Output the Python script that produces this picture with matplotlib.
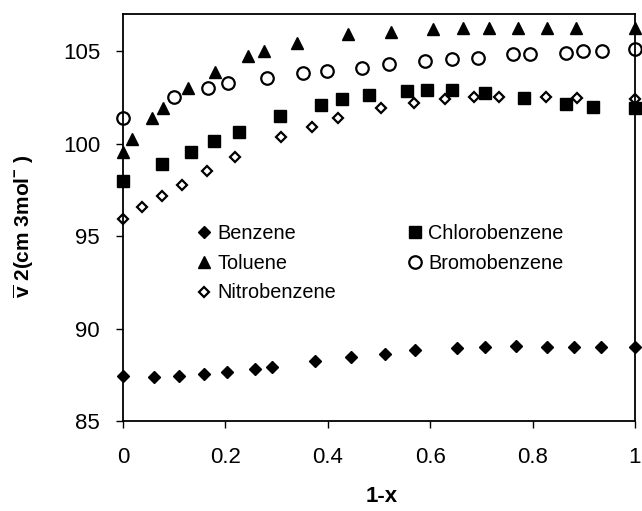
import matplotlib.pyplot as plt

plt.rcParams['font.family'] = ['Liberation Sans', 'DejaVu Sans']
plt.rcParams['mathtext.fontset'] = 'custom'
plt.rcParams['mathtext.rm'] = 'Liberation Sans'
plt.rcParams['mathtext.bf'] = 'Liberation Sans:bold'

# dados
benz_x = [0.0, 0.06, 0.109, 0.158, 0.203, 0.258, 0.291, 0.376, 0.445, 0.512, 0.570,
          0.652, 0.708, 0.767, 0.828, 0.881, 0.934, 1.0]
benz_y = [87.43, 87.39, 87.44, 87.53, 87.64, 87.82, 87.93, 88.25, 88.47, 88.65, 88.83,
          88.95, 89.0, 89.04, 89.0, 89.0, 89.0, 89.0]

tol_x = [0.0, 0.018, 0.056, 0.079, 0.127, 0.18, 0.245, 0.275, 0.34, 0.44, 0.523,
         0.605, 0.665, 0.715, 0.772, 0.829, 0.884, 1.0]
tol_y = [99.52, 100.24, 101.37, 101.91, 102.99, 103.88, 104.73, 105.0, 105.45, 105.9,
         106.04, 106.17, 106.22, 106.22, 106.22, 106.22, 106.22, 106.26]

clb_x = [0.0, 0.076, 0.132, 0.178, 0.227, 0.307, 0.386, 0.428, 0.481, 0.555, 0.593,
         0.642, 0.707, 0.784, 0.865, 0.919, 1.0]
clb_y = [97.95, 98.89, 99.52, 100.11, 100.63, 101.5, 102.09, 102.4, 102.63, 102.84,
         102.88, 102.88, 102.75, 102.48, 102.13, 101.98, 101.94]

brb_x = [0.0, 0.1, 0.167, 0.206, 0.281, 0.351, 0.398, 0.467, 0.52, 0.59, 0.643,
         0.693, 0.761, 0.795, 0.866, 0.899, 0.936, 1.0]
brb_y = [101.37, 102.54, 103.02, 103.29, 103.56, 103.83, 103.92, 104.1, 104.28, 104.46,
         104.55, 104.64, 104.82, 104.82, 104.91, 105.0, 105.0, 105.09]

nib_x = [0.0, 0.038, 0.076, 0.115, 0.165, 0.219, 0.309, 0.37, 0.42, 0.504, 0.568,
         0.629, 0.686, 0.734, 0.826, 0.886, 1.0]
nib_y = [95.93, 96.55, 97.18, 97.78, 98.53, 99.25, 100.33, 100.9, 101.37, 101.94,
         102.21, 102.4, 102.52, 102.52, 102.52, 102.48, 102.4]

fig = plt.figure(figsize=(6.42, 5.11), dpi=100)
ax = fig.add_axes([0.1916, 0.176, 0.7974, 0.7966])

ax.plot(benz_x, benz_y, 'D', color='black', ms=6.5, ls='none', label='Benzene', clip_on=False)
ax.plot(tol_x, tol_y, '^', color='black', ms=9, ls='none', label='Toluene', clip_on=False)
ax.plot(nib_x, nib_y, 'D', mfc='white', mec='black', mew=1.6, ms=5.5, ls='none',
        label='Nitrobenzene', clip_on=False)
ax.plot(clb_x, clb_y, 's', color='black', ms=8.5, ls='none', label='Chlorobenzene', clip_on=False)
ax.plot(brb_x, brb_y, 'o', mfc='white', mec='black', mew=1.6, ms=9, ls='none',
        label='Bromobenzene', clip_on=False)

ax.set_xlim(0, 1)
ax.set_ylim(85, 107)
ax.set_xticks([0, 0.2, 0.4, 0.6, 0.8, 1])
ax.set_xticklabels(['0', '0.2', '0.4', '0.6', '0.8', '1'])
ax.set_yticks([85, 90, 95, 100, 105])
ax.tick_params(labelsize=16, direction='out', length=5, width=1)
ax.tick_params(axis='x', pad=14)
ax.tick_params(axis='y', pad=11.5)

for s in ax.spines.values():
    s.set_linewidth(1.3)

ax.set_xlabel('1-x', fontsize=16, fontweight='bold')
ax.xaxis.set_label_coords(0.506, -0.16)
ax.set_ylabel(r'$\overline{\mathbf{v}}$ 2(cm 3mol$^{\mathbf{-}}$ )', fontsize=15, fontweight='bold')
ax.yaxis.set_label_coords(-0.17, 0.479)

ax.legend(ncol=2, loc='upper left', bbox_to_anchor=(0.139, 0.485), frameon=False,
          fontsize=14.3, handletextpad=0.15, columnspacing=3.5, labelspacing=0.55,
          handlelength=1.0, borderaxespad=0, borderpad=0)

fig.savefig('out.png', dpi=100)
